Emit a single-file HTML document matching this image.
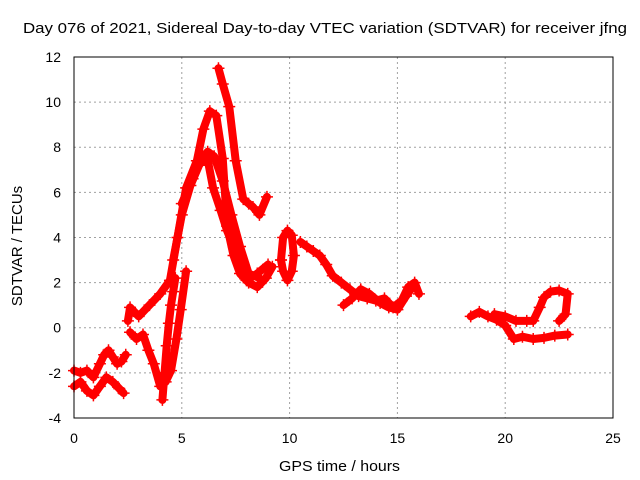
<!DOCTYPE html>
<html><head><meta charset="utf-8"><style>
body{margin:0;background:#fff;width:640px;height:480px;overflow:hidden}
svg{display:block;font-family:"Liberation Sans",sans-serif}
</style></head><body>
<svg id="chart" width="640" height="480" viewBox="0 0 640 480">
<text x="23" y="33" font-size="15" textLength="604" lengthAdjust="spacingAndGlyphs">Day 076 of 2021, Sidereal Day-to-day VTEC variation (SDTVAR) for receiver jfng</text>
<text transform="translate(22,246) rotate(-90)" font-size="15" text-anchor="middle">SDTVAR / TECUs</text>
<text x="279" y="471" font-size="15" textLength="121" lengthAdjust="spacingAndGlyphs">GPS time / hours</text>
<g id="grid"></g><g id="ticks"></g><g id="marks"></g>
<rect x="74" y="57" width="539" height="361" fill="none" stroke="#000" stroke-width="1"/>
</svg>
<script>
const xTicks=[0,5,10,15,20,25];
const yTicks=[-4,-2,0,2,4,6,8,10,12];
const trackA_t=[0,0.3,0.6,0.9,1.2,1.4,1.6,1.8,2.0,2.2,2.4];
const trackA_v=[-1.9,-2.0,-1.9,-2.2,-1.6,-1.2,-1.0,-1.3,-1.6,-1.5,-1.2];
const trackB_t=[0,0.3,0.6,0.9,1.2,1.5,1.8,2.1,2.3];
const trackB_v=[-2.6,-2.4,-2.8,-3.0,-2.6,-2.2,-2.4,-2.7,-2.9];
const trackC_t=[2.5,2.6,3.0,3.5,4.0,4.45,4.8,5.2,5.7,6.0,6.3,6.6,6.9,7.1,7.4,7.7,8.1,8.5,8.9,9.2];
const trackC_v=[0.3,0.9,0.5,1.0,1.5,2.1,4.0,6.2,7.4,8.8,9.6,9.4,7.5,4.5,3.2,2.4,2.0,1.8,2.2,2.7];
const trackD_t=[6.7,6.9,7.2,7.5,7.85,8.1,8.3,8.6,8.95];
const trackD_v=[11.5,10.8,9.8,7.4,5.7,5.5,5.35,5.0,5.8];
const trackE_t=[4.6,5.0,5.4,5.8,6.15,6.45,6.8,7.1,7.4,7.7,8.0,8.5,9.0];
const trackE_v=[3.0,5.0,6.3,7.2,7.7,6.2,5.2,4.3,3.6,2.8,2.1,2.4,2.8];
const trackF_t=[5.0,5.5,5.9,6.2,6.5,6.9,7.3,7.7,8.1,8.6];
const trackF_v=[5.5,6.6,7.5,7.8,7.6,6.5,5.0,3.6,2.4,2.2];
const trackG_t=[2.6,2.9,3.2,3.45,3.7,4.0,4.25,4.5,4.75,4.95,5.2];
const trackG_v=[-0.2,-0.5,-0.3,-1.0,-1.6,-2.6,-2.4,-1.9,-0.5,0.8,2.5];
const trackH_t=[4.1,4.2,4.3,4.4,4.5,4.6,4.7];
const trackH_v=[-3.2,-2.0,-0.8,0.2,1.0,1.6,2.2];
const trackI_t=[9.6,9.7,9.9,10.1,10.2,10.1,9.9,9.7,9.6];
const trackI_v=[3.0,4.0,4.3,4.1,3.2,2.5,2.1,2.5,3.0];
const trackJ_t=[10.5,10.8,11.1,11.4,11.7,12.0,12.4,12.8,13.2,13.6,14.0,14.4,14.8,15.2,15.5,15.8,16.0];
const trackJ_v=[3.8,3.6,3.4,3.2,2.8,2.3,2.0,1.7,1.4,1.3,1.2,1.3,0.9,1.2,1.8,2.0,1.5];
const trackK_t=[12.5,12.9,13.3,13.7,14.2,14.6,15.0,15.4,15.7];
const trackK_v=[1.0,1.3,1.7,1.5,1.1,0.9,0.8,1.4,1.8];
const trackL_t=[18.4,18.8,19.2,19.6,20.0,20.4,20.8,21.3,21.8,22.3,22.9];
const trackL_v=[0.5,0.7,0.5,0.35,0.1,-0.5,-0.4,-0.5,-0.45,-0.35,-0.3];
const trackM_t=[19.5,20.0,20.5,21.0,21.3,21.6,21.8,22.1,22.5,22.9,22.8,22.5];
const trackM_v=[0.6,0.5,0.3,0.3,0.3,0.9,1.35,1.6,1.65,1.5,0.6,0.3];
const tracks=[[trackA_t,trackA_v],[trackB_t,trackB_v],[trackC_t,trackC_v],[trackD_t,trackD_v],[trackE_t,trackE_v],[trackF_t,trackF_v],[trackG_t,trackG_v],[trackH_t,trackH_v],[trackI_t,trackI_v],[trackJ_t,trackJ_v],[trackK_t,trackK_v],[trackL_t,trackL_v],[trackM_t,trackM_v]];

const NS="http://www.w3.org/2000/svg";
const X=t=>74+t*(539/25);
const Y=v=>327.7-v*(361/16);
function mk(tag,attrs,parent){const e=document.createElementNS(NS,tag);for(const k in attrs)e.setAttribute(k,attrs[k]);parent.appendChild(e);return e;}
const grid=document.getElementById('grid'),ticks=document.getElementById('ticks'),marks=document.getElementById('marks');
xTicks.forEach(t=>{
  if(t>0&&t<25){const g=mk('line',{x1:X(t),x2:X(t),y1:57,y2:418,stroke:'#a0a0a0','stroke-dasharray':'2,3'},grid);
  
  }
  const l=mk('text',{x:X(t),y:443,'font-size':14,'text-anchor':'middle'},ticks);l.textContent=t;
  
  
});
yTicks.forEach(v=>{
  if(v>-4&&v<12){const g=mk('line',{x1:74,x2:613,y1:Y(v),y2:Y(v),stroke:'#a0a0a0','stroke-dasharray':'2,3'},grid);
  
  }
  const l=mk('text',{x:61,y:Y(v)+5,'font-size':14,'text-anchor':'end'},ticks);l.textContent=v;
  
  
});
tracks.forEach(([ts,vs])=>{
  const pts=ts.map((t,i)=>X(t)+','+Y(vs[i])).join(' ');
  const pl=mk('polyline',{points:pts,fill:'none',stroke:'#ff0000','stroke-width':8,'stroke-linejoin':'round','stroke-linecap':'round'},marks);
  
  
  ts.forEach((t,i)=>{
    const x=X(t),y=Y(vs[i]);
    const p=mk('path',{d:`M${x-6},${y}H${x+6}M${x},${y-6}V${y+6}`,stroke:'#ff0000','stroke-width':1.5},marks);
    
    
  });
});
</script>
</body></html>
